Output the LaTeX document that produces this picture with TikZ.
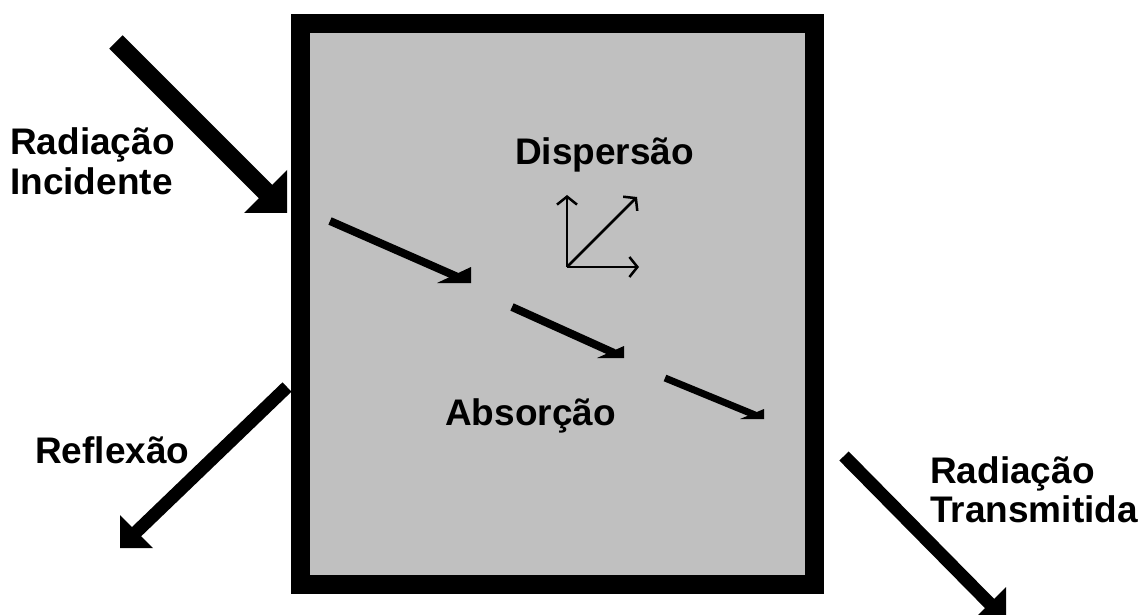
\documentclass[tikz,border=0pt]{standalone}
\usepackage{fontspec}
\setmainfont{Liberation Sans}
\usetikzlibrary{arrows.meta}
\definecolor{boxgray}{HTML}{C0C0C0}
\begin{document}
\begin{tikzpicture}[x=1pt,y=-1pt,
  lbl/.style={font=\fontsize{37}{40}\selectfont\bfseries, inner sep=0pt, anchor=base west},
  bigshaft/.style={line width=19pt, line cap=butt},
  midshaft/.style={line width=13pt, line cap=butt},
  smallshaft/.style={line width=8pt, line cap=butt},
  thinarrow/.style={line width=2.5pt, -{Straight Barb[length=8pt,width=20pt]}}
]
\useasboundingbox (0,0) rectangle (1144,615);
\clip (0,0) rectangle (1144,615);

% sample box
\node[draw=black, line width=19.5pt, fill=boxgray, minimum width=514pt, minimum height=561pt, inner sep=0pt] (box) at (557.5,304) {};

% incident radiation
\coordinate (inT) at (116,42);
\coordinate (inS) at (270,196);
\coordinate (inH) at (287,213);
\draw[bigshaft] (inT) -- (inS);
\fill (inH) -- ++(-43,0) -- ++(43,-43) -- cycle;

% reflection
\coordinate (reT) at (287,387);
\coordinate (reS) at (131,537);
\coordinate (reH) at (120,548);
\draw[midshaft] (reT) -- (reS);
\fill (reH) -- ++(0,-33) -- ++(33,33) -- cycle;

% transmitted
\coordinate (trT) at (844,456);
\coordinate (trS) at (995,609);
\coordinate (trH) at (1006,620);
\draw[midshaft] (trT) -- (trS);
\fill (trH) -- ++(0,-33) -- ++(-33,33) -- cycle;

% absorption arrows
\coordinate (aT) at (330,221);
\coordinate (aS) at (460,278);
\coordinate (aH) at (471,283);
\draw[smallshaft] (aT) -- (aS);
\fill (aH) -- ++(0,-16) -- ++(-34,16) -- cycle;

\coordinate (bT) at (512,307);
\coordinate (bS) at (614,353);
\coordinate (bH) at (624,358);
\draw[smallshaft] (bT) -- (bS);
\fill (bH) -- ++(0,-12) -- ++(-27,12) -- cycle;

\coordinate (cT) at (665,378);
\coordinate (cS) at (755,415);
\coordinate (cH) at (764,419);
\draw[line width=7pt, line cap=butt] (cT) -- (cS);
\fill (cH) -- ++(0,-10) -- ++(-24,10) -- cycle;

% dispersion arrows
\coordinate (dO) at (567,267);
\coordinate (dU) at (567,195);
\coordinate (dD) at (637,197);
\coordinate (dR) at (639,267);
\draw[thinarrow] (dO) -- (dU);
\draw[thinarrow] (dO) -- (dD);
\draw[thinarrow] (dO) -- (dR);

% labels
\node[lbl] (rad1) at (10,155) {Radiação};
\node[lbl] (inc) at (10,195) {Incidente};
\node[lbl] (disp) at (515,165) {Dispersão};
\node[lbl] (abs) at (445,425) {Absorção};
\node[lbl] (refl) at (35,463) {Reflexão};
\node[lbl] (rad2) at (930,483) {Radiação};
\node[lbl] (trans) at (930,522) {Transmitida};
\end{tikzpicture}
\end{document}
